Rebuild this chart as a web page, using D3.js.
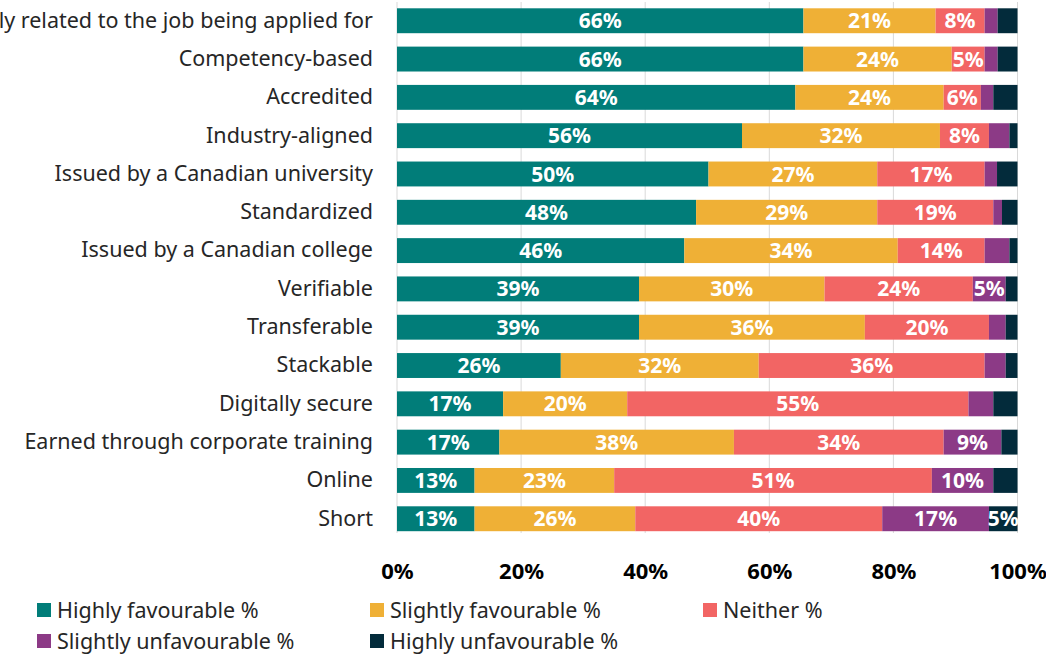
<!DOCTYPE html>
<html>
<head>
<meta charset="utf-8">
<script src="https://cdn.jsdelivr.net/npm/d3@7"></script>
<style>
  body { margin: 0; background: #fff; }
  svg { display: block; font-family: "Noto Sans", "Open Sans", sans-serif; }
</style>
</head>
<body>
<svg id="chart"></svg>
<script>
// chart data
var categories = [
  "Directly related to the job being applied for",
  "Competency-based",
  "Accredited",
  "Industry-aligned",
  "Issued by a Canadian university",
  "Standardized",
  "Issued by a Canadian college",
  "Verifiable",
  "Transferable",
  "Stackable",
  "Digitally secure",
  "Earned through corporate training",
  "Online",
  "Short"
];
var seriesNames = ["Highly favourable %", "Slightly favourable %", "Neither %", "Slightly unfavourable %", "Highly unfavourable %"];
var highlyFav    = [65.5, 65.5, 64.2, 55.6, 50.2, 48.2, 46.3, 39.0, 39.0, 26.4, 17.1, 16.5, 12.5, 12.5];
var slightlyFav  = [21.3, 23.9, 23.9, 31.9, 27.2, 29.2, 34.4, 29.9, 36.4, 31.9, 20.0, 37.8, 22.5, 25.9];
var neither      = [ 7.9,  5.3,  6.0,  7.9, 17.3, 18.7, 14.0, 23.9, 20.0, 36.4, 55.0, 33.8, 51.2, 39.8];
var slightlyUnf  = [ 2.1,  2.1,  2.0,  3.3,  2.0,  1.4,  4.0,  5.3,  2.7,  3.4,  4.0,  9.3,  9.9, 17.2];
var highlyUnf    = [ 3.2,  3.2,  3.9,  1.3,  3.3,  2.5,  1.3,  1.9,  1.9,  1.9,  3.9,  2.6,  3.9,  4.6];
var xTicks = [0, 20, 40, 60, 80, 100];
var colors = ["#017d79", "#efb036", "#f26564", "#8c3a86", "#032b3b"];

var width = 1046, height = 654;
var svg = d3.select("#chart").attr("width", width).attr("height", height);

// build rows for the stack
var seriesArrays = [highlyFav, slightlyFav, neither, slightlyUnf, highlyUnf];
var rows = categories.map(function(c, i) {
  var r = { cat: c };
  seriesNames.forEach(function(s, j) { r[s] = seriesArrays[j][i]; });
  return r;
});
var stacked = d3.stack().keys(seriesNames)(rows);

var x = d3.scaleLinear().domain([0, 100]).range([397, 1017.5]);
var y = d3.scaleBand().domain(categories).range([8.3, 531.2]).paddingInner(0.35).paddingOuter(0);

// grid lines
svg.append("g")
  .selectAll("line")
  .data(xTicks)
  .join("line")
  .attr("x1", function(d) { return x(d); })
  .attr("x2", function(d) { return x(d); })
  .attr("y1", 2)
  .attr("y2", 533)
  .attr("stroke", "#d9d9d9")
  .attr("stroke-width", 1);

// bars
var groups = svg.append("g")
  .selectAll("g")
  .data(stacked)
  .join("g")
  .attr("fill", function(d, i) { return colors[i]; });

groups.selectAll("rect")
  .data(function(d) { return d; })
  .join("rect")
  .attr("x", function(d) { return x(d[0]); })
  .attr("width", function(d) { return x(d[1]) - x(d[0]); })
  .attr("y", function(d) { return y(d.data.cat); })
  .attr("height", y.bandwidth());

// value labels
groups.selectAll("text")
  .data(function(d) { return d.filter(function(v) { return Math.round(v[1] - v[0]) >= 5; }); })
  .join("text")
  .attr("x", function(d) { return (x(d[0]) + x(d[1])) / 2; })
  .attr("y", function(d) { return y(d.data.cat) + y.bandwidth() / 2; })
  .attr("dy", "0.36em")
  .attr("text-anchor", "middle")
  .attr("fill", "#fff")
  .style("font-size", "21px")
  .style("font-weight", "bold")
  .text(function(d) { return Math.round(d[1] - d[0]) + "%"; });

// category labels
var yAxis = d3.axisLeft(y).tickSize(0).tickPadding(0);
var gy = svg.append("g")
  .attr("transform", "translate(373,0)")
  .call(yAxis);
gy.select(".domain").remove();
gy.selectAll("text")
  .attr("fill", "#262626")
  .style("font-size", "21.5px")
  .style("font-family", "'Noto Sans', 'Open Sans', sans-serif");

// x axis tick labels
var xAxis = d3.axisBottom(x).tickValues(xTicks).tickSize(0).tickPadding(0)
  .tickFormat(function(d) { return d + "%"; });
var gx = svg.append("g")
  .attr("transform", "translate(0,571)")
  .call(xAxis);
gx.select(".domain").remove();
gx.selectAll("text")
  .attr("dy", "0.36em")
  .attr("fill", "#000")
  .style("font-size", "22px")
  .style("font-weight", "bold")
  .style("font-family", "'Noto Sans', 'Open Sans', sans-serif");

// legend
var legendPos = [[37, 610], [370, 610], [703, 610], [37, 641], [370, 641]];
var legend = svg.append("g")
  .selectAll("g")
  .data(seriesNames)
  .join("g")
  .attr("transform", function(d, i) { return "translate(" + legendPos[i][0] + "," + legendPos[i][1] + ")"; });

legend.append("rect")
  .attr("x", 0)
  .attr("y", -7)
  .attr("width", 14)
  .attr("height", 14)
  .attr("fill", function(d, i) { return colors[i]; });

legend.append("text")
  .attr("x", 20)
  .attr("y", 0)
  .attr("dy", "0.36em")
  .attr("fill", "#262626")
  .style("font-size", "21.5px")
  .text(function(d) { return d; });
</script>
</body>
</html>
